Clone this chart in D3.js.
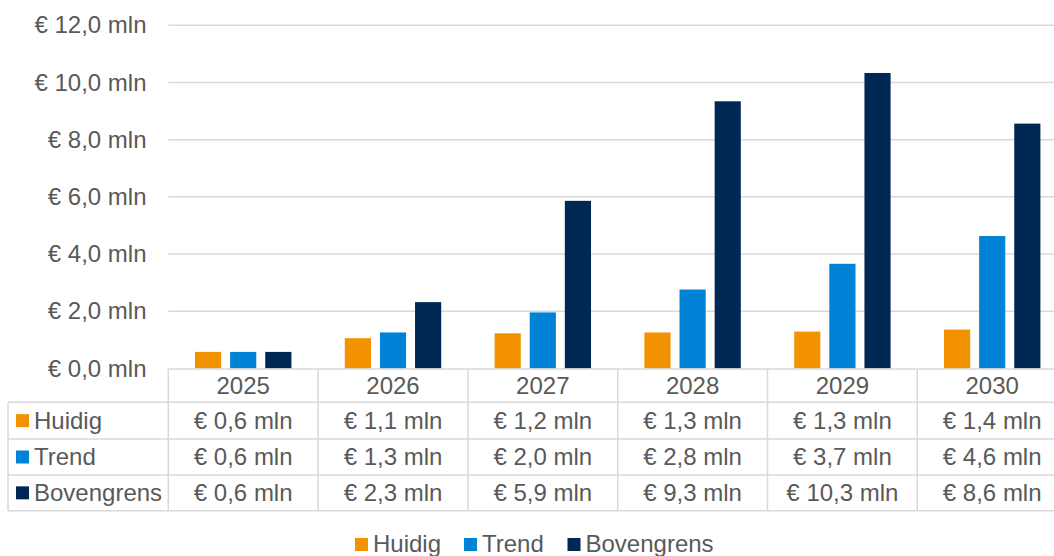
<!DOCTYPE html>
<html>
<head>
<meta charset="utf-8">
<script src="https://cdn.jsdelivr.net/npm/d3@7"></script>
<style>
  html, body { margin: 0; padding: 0; background: #fff; }
  svg { display: block; }
  text { font-family: "Liberation Sans", Arial, sans-serif; fill: #595959; }
</style>
</head>
<body>
<svg id="chart" width="1054" height="556"></svg>
<script>
const years = ["2025", "2026", "2027", "2028", "2029", "2030"];
const seriesNames = ["Huidig", "Trend", "Bovengrens"];
const huidig = [0.58, 1.06, 1.23, 1.26, 1.29, 1.36];
const trend = [0.58, 1.26, 1.96, 2.76, 3.66, 4.63];
const bovengrens = [0.58, 2.32, 5.86, 9.34, 10.33, 8.56];
const yTicks = [0, 2, 4, 6, 8, 10, 12];
const colors = ["#F39200", "#0082D6", "#002855"];

const seriesValues = [huidig, trend, bovengrens];
const fmt = v => "€ " + v.toFixed(1).replace(".", ",") + " mln";

const svg = d3.select("#chart");
const fontSize = 24;
const gridColor = "#D9D9D9";

const plotLeft = 168.3, colW = 149.8;
const plotRight = plotLeft + colW * years.length;
const y0 = 368.5, yTop = 25.2;

const x = d3.scaleBand().domain(years).range([plotLeft, plotRight]).paddingInner(0).paddingOuter(0);
const xs = d3.scaleBand().domain(seriesNames).range([0, x.bandwidth()]).paddingInner(0.255).paddingOuter(0.76);
const y = d3.scaleLinear().domain([0, 12]).range([y0, yTop]);

// gridlines
svg.append("g").selectAll("line").data(yTicks.filter(t => t > 0)).join("line")
  .attr("x1", plotLeft).attr("x2", 1054)
  .attr("y1", d => y(d)).attr("y2", d => y(d))
  .attr("stroke", gridColor).attr("stroke-width", 1.5);

// y axis labels
const yAxis = d3.axisLeft(y).tickValues(yTicks).tickSize(0).tickPadding(0).tickFormat(fmt);
const yg = svg.append("g").attr("transform", "translate(146.5,0)").call(yAxis);
yg.select(".domain").remove();
yg.selectAll("text").style("font-size", fontSize + "px").attr("fill", "#595959")
  .attr("font-family", "Liberation Sans, Arial, sans-serif");

// bars
const groups = svg.append("g").selectAll("g").data(years).join("g")
  .attr("transform", d => `translate(${x(d)},0)`);
groups.selectAll("rect")
  .data((d, i) => seriesNames.map((s, j) => ({ s, v: seriesValues[j][i], c: colors[j] })))
  .join("rect")
  .attr("x", d => xs(d.s))
  .attr("width", xs.bandwidth())
  .attr("y", d => y(d.v))
  .attr("height", d => y0 - y(d.v))
  .attr("fill", d => d.c);

// data table
const rowTops = [369, 402.3, 439, 475, 510.7];
const tableLeft = 8;
const tg = svg.append("g");
const line = (x1, y1, x2, y2) => tg.append("line")
  .attr("x1", x1).attr("y1", y1).attr("x2", x2).attr("y2", y2)
  .attr("stroke", gridColor).attr("stroke-width", 1.5);

line(plotLeft, y0 + 0.5, 1054, y0 + 0.5);
for (let r = 1; r < rowTops.length; r++) line(tableLeft, rowTops[r], 1054, rowTops[r]);
line(tableLeft, rowTops[1], tableLeft, rowTops[4]);
years.forEach(yr => line(x(yr), rowTops[0], x(yr), rowTops[4]));
line(plotRight, rowTops[0], plotRight, rowTops[4]);

// header
tg.selectAll("text.hdr").data(years).join("text").attr("class", "hdr")
  .attr("x", d => x(d) + x.bandwidth() / 2)
  .attr("y", (rowTops[0] + rowTops[1]) / 2)
  .attr("dy", "0.35em").attr("text-anchor", "middle")
  .style("font-size", fontSize + "px").text(d => d);

seriesNames.forEach((s, j) => {
  const cy = (rowTops[j + 1] + rowTops[j + 2]) / 2;
  tg.append("rect").attr("x", 16).attr("y", cy - 6.5).attr("width", 13).attr("height", 13).attr("fill", colors[j]);
  tg.append("text").attr("x", 34).attr("y", cy).attr("dy", "0.35em")
    .style("font-size", fontSize + "px").text(s);
  tg.selectAll("text.v" + j).data(seriesValues[j]).join("text").attr("class", "v" + j)
    .attr("x", (d, i) => x(years[i]) + x.bandwidth() / 2)
    .attr("y", cy).attr("dy", "0.35em").attr("text-anchor", "middle")
    .style("font-size", fontSize + "px").text(d => fmt(d));
});

// legend
const legendX = [355, 464, 567.5];
const lg = svg.append("g");
seriesNames.forEach((s, j) => {
  lg.append("rect").attr("x", legendX[j]).attr("y", 538).attr("width", 13).attr("height", 13).attr("fill", colors[j]);
  lg.append("text").attr("x", legendX[j] + 18).attr("y", 543.5).attr("dy", "0.35em")
    .style("font-size", fontSize + "px").text(s);
});
</script>
</body>
</html>
